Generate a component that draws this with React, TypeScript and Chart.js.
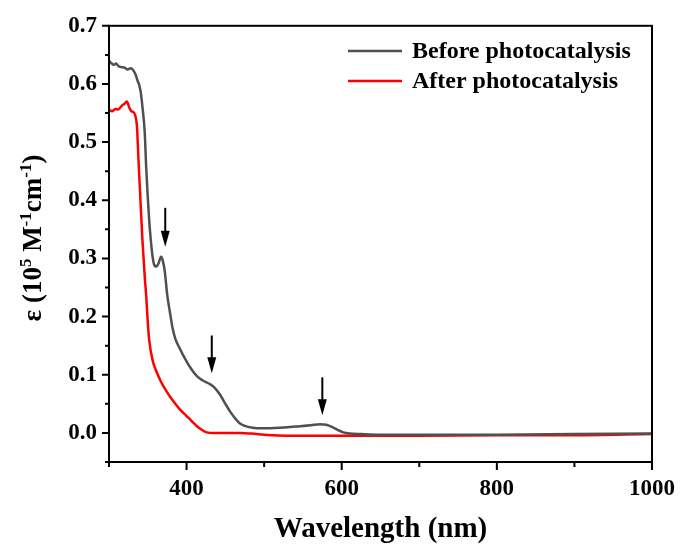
import React, { useEffect, useRef } from "react";
import { Chart, registerables } from "chart.js";

Chart.register(...registerables);

const wavelengthBefore = [
  300, 303, 306, 309, 312, 316, 320, 324, 328, 331, 334, 337, 339, 341, 343, 346, 348, 350, 352, 354,
  356, 358, 361, 364, 367, 369, 372, 375, 378, 382, 386, 391, 395, 400, 405, 413, 420, 430, 436, 443,
  450, 456, 462, 468, 475, 485, 498, 520, 540, 560, 572, 580, 588, 595, 602, 610, 625, 650, 700, 800,
  900, 1000,
];
const epsilonBefore = [
  0.640, 0.636, 0.633, 0.635, 0.631, 0.629, 0.628, 0.625, 0.627, 0.624, 0.617, 0.605, 0.598, 0.585,
  0.562, 0.518, 0.455, 0.405, 0.362, 0.330, 0.305, 0.290, 0.286, 0.292, 0.303, 0.298, 0.277, 0.238,
  0.212, 0.180, 0.160, 0.146, 0.135, 0.123, 0.112, 0.098, 0.091, 0.084, 0.078, 0.066, 0.050, 0.037,
  0.026, 0.017, 0.012, 0.009, 0.008, 0.009, 0.011, 0.013, 0.015, 0.014, 0.010, 0.005, 0.001, -0.001,
  -0.002, -0.003, -0.003, -0.003, -0.002, -0.001,
];

const wavelengthAfter = [
  300, 304, 308, 312, 316, 320, 323, 326, 329, 332, 334, 336, 338, 340, 343, 346, 348, 350, 352, 356,
  361, 367, 374, 382, 391, 400, 407, 413, 420, 426, 435, 450, 470, 490, 510, 550, 600, 700, 800, 900,
  1000,
];
const epsilonAfter = [
  0.556, 0.553, 0.557, 0.556, 0.562, 0.566, 0.570, 0.560, 0.553, 0.551, 0.545, 0.528, 0.470, 0.415,
  0.334, 0.270, 0.235, 0.190, 0.158, 0.126, 0.106, 0.088, 0.072, 0.056, 0.041, 0.029, 0.020, 0.012,
  0.005, 0.001, 0.000, 0.000, 0.000, -0.002, -0.004, -0.005, -0.005, -0.005, -0.004, -0.004, -0.002,
];

const seriesLabels = ["Before photocatalysis", "After photocatalysis"];
const seriesColors = ["#505050", "#ff0000"];

const xMajorTicks = [400, 600, 800, 1000];
const xMinorTicks = [300, 500, 700, 900];
const yMajorTicks = [0, 0.1, 0.2, 0.3, 0.4, 0.5, 0.6, 0.7];
const yMinorTicks = [-0.05, 0.05, 0.15, 0.25, 0.35, 0.45, 0.55, 0.65];

const arrowX = [372.5, 432.5, 575];
const arrowTop = [0.387, 0.1675, 0.0955];
const arrowTip = [0.32, 0.1024, 0.0305];

const FONT = "'Liberation Serif', 'Times New Roman', serif";

const overlayPlugin = {
  id: "overlay",
  afterDraw(chart: any) {
    const { ctx, chartArea: a, scales } = chart;
    const x = scales.x;
    const y = scales.y;
    ctx.save();
    // frame
    ctx.strokeStyle = "#000";
    ctx.lineWidth = 2;
    ctx.strokeRect(a.left, a.top, a.right - a.left, a.bottom - a.top);
    // ticks
    ctx.beginPath();
    xMajorTicks.forEach((v) => {
      const px = x.getPixelForValue(v);
      ctx.moveTo(px, a.bottom);
      ctx.lineTo(px, a.bottom + 8);
    });
    xMinorTicks.forEach((v) => {
      const px = x.getPixelForValue(v);
      ctx.moveTo(px, a.bottom);
      ctx.lineTo(px, a.bottom + 5);
    });
    yMajorTicks.forEach((v) => {
      const py = y.getPixelForValue(v);
      ctx.moveTo(a.left, py);
      ctx.lineTo(a.left - 7, py);
    });
    yMinorTicks.forEach((v) => {
      const py = y.getPixelForValue(v);
      ctx.moveTo(a.left, py);
      ctx.lineTo(a.left - 4, py);
    });
    ctx.stroke();

    // x tick labels
    ctx.fillStyle = "#000";
    ctx.font = `bold 23px ${FONT}`;
    ctx.textAlign = "center";
    ctx.textBaseline = "alphabetic";
    xMajorTicks.forEach((v) => {
      ctx.fillText(String(v), x.getPixelForValue(v), 495);
    });

    // arrows
    arrowX.forEach((v, i) => {
      const px = x.getPixelForValue(v);
      const top = y.getPixelForValue(arrowTop[i]);
      const tip = y.getPixelForValue(arrowTip[i]);
      ctx.beginPath();
      ctx.strokeStyle = "#000";
      ctx.lineWidth = 2;
      ctx.moveTo(px, top);
      ctx.lineTo(px, tip - 12);
      ctx.stroke();
      ctx.beginPath();
      ctx.moveTo(px - 4.5, tip - 16);
      ctx.lineTo(px + 4.5, tip - 16);
      ctx.lineTo(px, tip);
      ctx.closePath();
      ctx.fill();
    });

    // legend
    ctx.font = `bold 24px ${FONT}`;
    ctx.textBaseline = "middle";
    ctx.textAlign = "left";
    const legendY = [51, 81];
    seriesLabels.forEach((label, i) => {
      ctx.beginPath();
      ctx.strokeStyle = seriesColors[i];
      ctx.lineWidth = 2.5;
      ctx.moveTo(348, legendY[i]);
      ctx.lineTo(402, legendY[i]);
      ctx.stroke();
      ctx.fillStyle = "#000";
      ctx.fillText(label, 412, legendY[i] + 1);
    });

    // x title
    ctx.font = `bold 29px ${FONT}`;
    ctx.textAlign = "center";
    ctx.textBaseline = "alphabetic";
    ctx.fillStyle = "#000";
    ctx.fillText("Wavelength (nm)", (a.left + a.right) / 2, 537);

    // y title with superscripts
    const big = `bold 27px ${FONT}`;
    const small = `bold 17px ${FONT}`;
    const parts: [string, boolean][] = [
      ["ε (10", false],
      ["5", true],
      [" M", false],
      ["-1", true],
      ["cm", false],
      ["-1", true],
      [")", false],
    ];
    let total = 0;
    parts.forEach(([t, sup]) => {
      ctx.font = sup ? small : big;
      total += ctx.measureText(t).width;
    });
    ctx.translate(41, 238);
    ctx.rotate(-Math.PI / 2);
    ctx.textAlign = "left";
    let cx = -total / 2;
    parts.forEach(([t, sup]) => {
      ctx.font = sup ? small : big;
      ctx.fillText(t, cx, sup ? -10 : 0);
      cx += ctx.measureText(t).width;
    });
    ctx.restore();
  },
};

export default function App() {
  const ref = useRef<HTMLCanvasElement | null>(null);
  useEffect(() => {
    if (!ref.current) return;
    const chart = new Chart(ref.current, {
      type: "line",
      data: {
        datasets: [
          {
            label: seriesLabels[0],
            data: wavelengthBefore.map((w, i) => ({ x: w, y: epsilonBefore[i] })),
            borderColor: seriesColors[0],
            borderWidth: 2.5,
            pointRadius: 0,
            cubicInterpolationMode: "monotone",
            fill: false,
          },
          {
            label: seriesLabels[1],
            data: wavelengthAfter.map((w, i) => ({ x: w, y: epsilonAfter[i] })),
            borderColor: seriesColors[1],
            borderWidth: 2.5,
            pointRadius: 0,
            cubicInterpolationMode: "monotone",
            fill: false,
          },
        ],
      },
      options: {
        animation: false,
        responsive: false,
        devicePixelRatio: 1,
        layout: { padding: { top: 24, right: 28, left: 0, bottom: 0 } },
        plugins: { legend: { display: false }, tooltip: { enabled: false } },
        scales: {
          x: {
            type: "linear",
            min: 300,
            max: 1000,
            afterBuildTicks: (s: any) => {
              s.ticks = xMajorTicks.map((v) => ({ value: v }));
            },
            afterFit: (s: any) => {
              s.height = 84;
            },
            grid: { display: false, drawTicks: false },
            border: { display: false },
            ticks: { display: false },
          },
          y: {
            type: "linear",
            min: -0.05,
            max: 0.7,
            afterBuildTicks: (s: any) => {
              s.ticks = yMajorTicks.map((v) => ({ value: v }));
            },
            afterFit: (s: any) => {
              s.width = 109;
            },
            grid: { display: false, drawTicks: false },
            border: { display: false },
            ticks: {
              autoSkip: false,
              padding: 12,
              color: "#000",
              font: { family: FONT, size: 23, weight: "bold" },
              callback: (v: any) => Number(v).toFixed(1),
            },
          },
        },
      },
      plugins: [overlayPlugin],
    });
    return () => chart.destroy();
  }, []);
  return (
    <div style={{ position: "absolute", left: 0, top: 0, width: 680, height: 546 }}>
      <canvas ref={ref} width={680} height={546} />
    </div>
  );
}
